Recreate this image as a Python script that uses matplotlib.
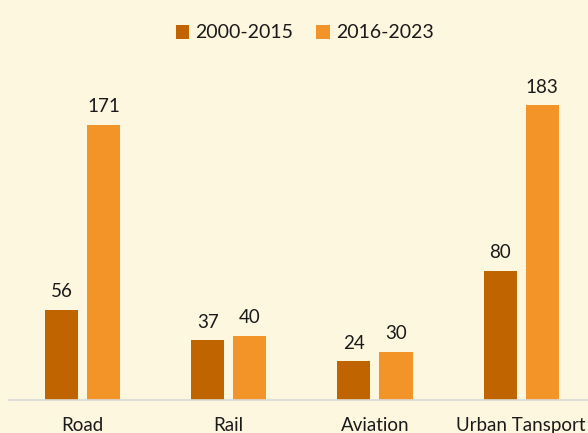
import matplotlib
matplotlib.use('Agg')

import matplotlib.pyplot as plt
import numpy as np

kategorien = ["Road", "Rail", "Aviation", "Urban Tansport"]
werte_2000_2015 = [56, 37, 24, 80]
werte_2016_2023 = [171, 40, 30, 183]
serien_namen = ["2000-2015", "2016-2023"]

plt.rcParams['font.family'] = ['Lato', 'DejaVu Sans']

hintergrund = "#FEF7E0"
dunkel = "#C06400"
hell = "#F39428"

fig = plt.figure(figsize=(5.88, 4.33), dpi=100, facecolor=hintergrund)
ax = fig.add_axes([9.3 / 588, 33 / 433, 585 / 588, 322 / 433])
ax.set_facecolor(hintergrund)

x = np.arange(len(kategorien))
breite = 0.226
versatz = 0.144

balken1 = ax.bar(x - versatz, werte_2000_2015, breite, color=dunkel, label=serien_namen[0])
balken2 = ax.bar(x + versatz, werte_2016_2023, breite, color=hell, label=serien_namen[1])

for balken in (balken1, balken2):
    for b in balken:
        ax.annotate(f"{b.get_height():.0f}",
                    (b.get_x() + b.get_width() / 2, b.get_height()),
                    xytext=(0, 7), textcoords="offset points",
                    ha="center", va="bottom", fontsize=13.5, color="#1a1a1a")

ax.set_xlim(-0.5, len(kategorien) - 0.5)
ax.set_ylim(0, 200)
ax.set_xticks(x)
ax.set_xticklabels(kategorien, fontsize=13.5, color="#1a1a1a")
ax.tick_params(axis="x", length=0, pad=12)
ax.set_yticks([])

for seite in ["top", "right", "left"]:
    ax.spines[seite].set_visible(False)
ax.spines["bottom"].set_color("#D9D9D9")
ax.spines["bottom"].set_linewidth(1.2)

fig.legend(loc="center", bbox_to_anchor=(0.518, 1 - 33 / 433), ncol=2, frameon=False,
           fontsize=14, handlelength=0.7, handleheight=0.7, handletextpad=0.3,
           columnspacing=1.2, labelcolor="#1a1a1a")

fig.savefig("out.png", dpi=100, facecolor=hintergrund)
